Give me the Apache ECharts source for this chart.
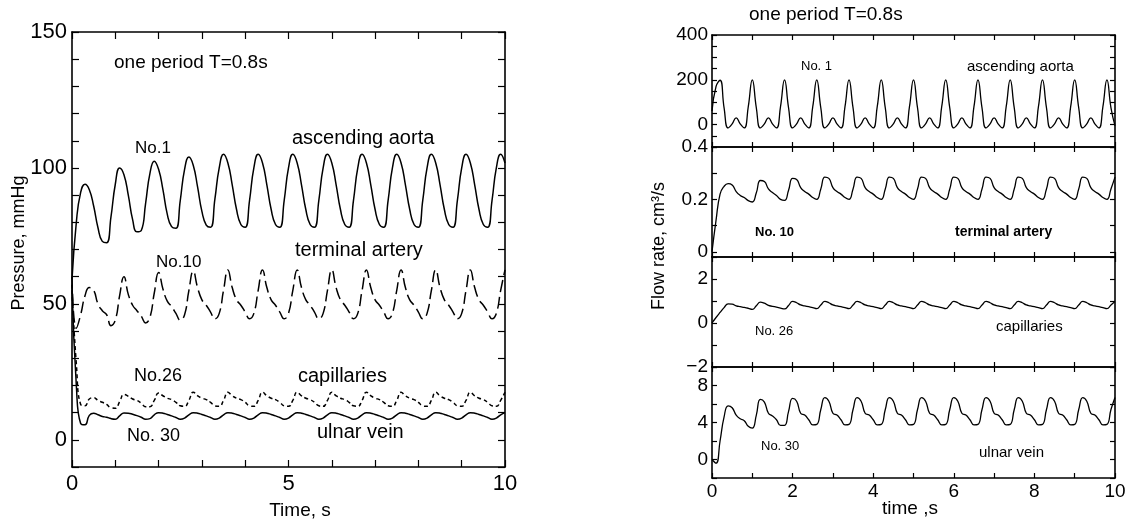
<!DOCTYPE html>
<html>
<head>
<meta charset="utf-8">
<script src="https://cdn.jsdelivr.net/npm/echarts@6/dist/echarts.min.js"></script>
<style>
  html, body { margin: 0; padding: 0; background: #fff; }
  #chart { width: 1130px; height: 527px; }
</style>
</head>
<body>
<div id="chart"></div>
<script>
// all curves are sampled every 0.1 s from 0 to 10 s
const timeStep = 0.1;

// left panel: pressure, mmHg
const pressureAorta = [
  59, 80, 91, 94, 92, 86, 78, 73, 72.5, 82, 94, 100, 97.5, 90, 81, 76.5, 77, 87,
  98, 102.5, 99.5, 92, 83, 78.4, 77.8, 88, 99.5, 104, 101, 93, 84, 79, 78.2, 88.5, 100, 105,
  101.8, 93.8, 84.7, 79.2, 78.2, 88, 100, 105,
  101.8, 93.8, 84.7, 79.2, 78.2, 88, 100, 105,
  101.8, 93.8, 84.7, 79.2, 78.2, 88, 100, 105,
  101.8, 93.8, 84.7, 79.2, 78.2, 88, 100, 105,
  101.8, 93.8, 84.7, 79.2, 78.2, 88, 100, 105,
  101.8, 93.8, 84.7, 79.2, 78.2, 88, 100, 105,
  101.8, 93.8, 84.7, 79.2, 78.2, 88, 100, 105,
  101.8, 93.8, 84.7, 79.2, 78.2, 88, 100, 105,
  101.8
];
const pressureTerminal = [
  60, 41, 46, 53, 56, 55, 50, 47.5, 46, 42, 44, 53, 60, 53.5, 49.5, 47.5, 45.5, 43,
  45, 54, 61.5, 55.5, 51, 49, 46.5, 44, 46, 55, 62,
  56, 51.5, 49.5, 47, 44.5, 46.5, 55, 62.5,
  56, 51.5, 49.5, 47, 44.5, 46.5, 55, 62.5,
  56, 51.5, 49.5, 47, 44.5, 46.5, 55, 62.5,
  56, 51.5, 49.5, 47, 44.5, 46.5, 55, 62.5,
  56, 51.5, 49.5, 47, 44.5, 46.5, 55, 62.5,
  56, 51.5, 49.5, 47, 44.5, 46.5, 55, 62.5,
  56, 51.5, 49.5, 47, 44.5, 46.5, 55, 62.5,
  56, 51.5, 49.5, 47, 44.5, 46.5, 55, 62.5,
  56, 51.5, 49.5, 47, 44.5, 46.5, 55, 62.5
];
const pressureCapillary = [
  55, 28, 13, 12.5, 15, 15.5, 14.5, 13.8, 13, 11.8, 11.6, 14, 16.7, 16, 15, 14.5,
  13.5, 12.2, 12.2, 14.5, 17.2, 16.2, 15.3, 14.8, 13.8, 12.5, 12.3, 14.5, 17.5,
  16.2, 15.3, 14.8, 13.8, 12.5, 12.3, 14.5, 17.5,
  16.2, 15.3, 14.8, 13.8, 12.5, 12.3, 14.5, 17.5,
  16.2, 15.3, 14.8, 13.8, 12.5, 12.3, 14.5, 17.5,
  16.2, 15.3, 14.8, 13.8, 12.5, 12.3, 14.5, 17.5,
  16.2, 15.3, 14.8, 13.8, 12.5, 12.3, 14.5, 17.5,
  16.2, 15.3, 14.8, 13.8, 12.5, 12.3, 14.5, 17.5,
  16.2, 15.3, 14.8, 13.8, 12.5, 12.3, 14.5, 17.5,
  16.2, 15.3, 14.8, 13.8, 12.5, 12.3, 14.5, 17.5,
  16.2, 15.3, 14.8, 13.8, 12.5, 12.3, 14.5, 17.5
];
const pressureVein = [
  57, 20, 6, 5.5, 9, 9.8, 9.2, 8.6, 8.3, 7.8, 7.6, 8.8, 9.9, 9.8, 9.4, 8.9, 8.3,
  7.6, 7.8, 9.2, 10,
  9.8, 9.3, 8.8, 8.2, 7.6, 8, 9.2, 10,
  9.8, 9.3, 8.8, 8.2, 7.6, 8, 9.2, 10,
  9.8, 9.3, 8.8, 8.2, 7.6, 8, 9.2, 10,
  9.8, 9.3, 8.8, 8.2, 7.6, 8, 9.2, 10,
  9.8, 9.3, 8.8, 8.2, 7.6, 8, 9.2, 10,
  9.8, 9.3, 8.8, 8.2, 7.6, 8, 9.2, 10,
  9.8, 9.3, 8.8, 8.2, 7.6, 8, 9.2, 10,
  9.8, 9.3, 8.8, 8.2, 7.6, 8, 9.2, 10,
  9.8, 9.3, 8.8, 8.2, 7.6, 8, 9.2, 10,
  9.8, 9.3, 8.8, 8.2, 7.6, 8, 9.2, 10
];

// right panels: flow rate, cm3/s
const flowAorta = [
  60, 170, 198,
  75, -15, 3, 30, 3, -15, 80, 200,
  75, -15, 3, 30, 3, -15, 80, 200,
  75, -15, 3, 30, 3, -15, 80, 200,
  75, -15, 3, 30, 3, -15, 80, 200,
  75, -15, 3, 30, 3, -15, 80, 200,
  75, -15, 3, 30, 3, -15, 80, 200,
  75, -15, 3, 30, 3, -15, 80, 200,
  75, -15, 3, 30, 3, -15, 80, 200,
  75, -15, 3, 30, 3, -15, 80, 200,
  75, -15, 3, 30, 3, -15, 80, 200,
  75, -15, 3, 30, 3, -15, 80, 200,
  75, -15, 3, 30, 3, -15, 80, 200,
  75, -5
];
const flowTerminal = [
  0, 0.12, 0.22, 0.25, 0.26, 0.255, 0.23, 0.215, 0.207, 0.195, 0.19, 0.225, 0.272,
  0.268, 0.24, 0.226, 0.215, 0.2, 0.196, 0.235, 0.28, 0.276,
  0.245, 0.23, 0.22, 0.207, 0.2, 0.24, 0.285, 0.28,
  0.245, 0.23, 0.22, 0.207, 0.2, 0.24, 0.285, 0.28,
  0.245, 0.23, 0.22, 0.207, 0.2, 0.24, 0.285, 0.28,
  0.245, 0.23, 0.22, 0.207, 0.2, 0.24, 0.285, 0.28,
  0.245, 0.23, 0.22, 0.207, 0.2, 0.24, 0.285, 0.28,
  0.245, 0.23, 0.22, 0.207, 0.2, 0.24, 0.285, 0.28,
  0.245, 0.23, 0.22, 0.207, 0.2, 0.24, 0.285, 0.28,
  0.245, 0.23, 0.22, 0.207, 0.2, 0.24, 0.285, 0.28,
  0.245, 0.23, 0.22, 0.207, 0.2, 0.24, 0.285, 0.28,
  0.245, 0.23, 0.22, 0.207, 0.2, 0.24, 0.285
];
const flowCapillary = [
  0, 0.25, 0.48, 0.7, 0.87, 0.86, 0.78, 0.74, 0.71, 0.67, 0.62, 0.78, 0.95, 0.9,
  0.8, 0.76, 0.72, 0.68, 0.64, 0.8, 0.98, 0.92,
  0.82, 0.78, 0.74, 0.7, 0.65, 0.82, 0.98, 0.92,
  0.82, 0.78, 0.74, 0.7, 0.65, 0.82, 0.98, 0.92,
  0.82, 0.78, 0.74, 0.7, 0.65, 0.82, 0.98, 0.92,
  0.82, 0.78, 0.74, 0.7, 0.65, 0.82, 0.98, 0.92,
  0.82, 0.78, 0.74, 0.7, 0.65, 0.82, 0.98, 0.92,
  0.82, 0.78, 0.74, 0.7, 0.65, 0.82, 0.98, 0.92,
  0.82, 0.78, 0.74, 0.7, 0.65, 0.82, 0.98, 0.92,
  0.82, 0.78, 0.74, 0.7, 0.65, 0.82, 0.98, 0.92,
  0.82, 0.78, 0.74, 0.7, 0.65, 0.82, 0.98, 0.92,
  0.82, 0.78, 0.74, 0.7, 0.65, 0.82, 0.98
];
const flowVein = [
  0, -0.4, 2, 4.6, 5.8, 5.6, 4.8, 4.4, 4.2, 3.6, 3.4, 4.8, 6.5, 6.2, 5.0, 4.7,
  4.3, 3.7, 3.7, 5.2, 6.6, 6.3,
  5.0, 4.8, 4.3, 3.75, 3.8, 5.4, 6.7, 6.3,
  5.0, 4.8, 4.3, 3.75, 3.8, 5.4, 6.7, 6.3,
  5.0, 4.8, 4.3, 3.75, 3.8, 5.4, 6.7, 6.3,
  5.0, 4.8, 4.3, 3.75, 3.8, 5.4, 6.7, 6.3,
  5.0, 4.8, 4.3, 3.75, 3.8, 5.4, 6.7, 6.3,
  5.0, 4.8, 4.3, 3.75, 3.8, 5.4, 6.7, 6.3,
  5.0, 4.8, 4.3, 3.75, 3.8, 5.4, 6.7, 6.3,
  5.0, 4.8, 4.3, 3.75, 3.8, 5.4, 6.7, 6.3,
  5.0, 4.8, 4.3, 3.75, 3.8, 5.4, 6.7, 6.3,
  5.0, 4.8, 4.3, 3.75, 3.8, 5.4, 6.7
];

// tick values of the four flow panels (top to bottom)
const flowTicks = [
  [-100, -50, 0, 50, 100, 150, 200, 250, 300, 350, 400],
  [0, 0.1, 0.2, 0.3, 0.4],
  [-2, -1, 0, 1, 2, 3],
  [-2, 0, 2, 4, 6, 8, 10]
];
const flowTickLabels = [
  [0, 200, 400],
  [0, 0.2, 0.4],
  [-2, 0, 2],
  [0, 4, 8]
];
const flowRanges = [[-100, 400], [-0.02, 0.4], [-2, 3], [-2, 10]];

const FONT = "'Liberation Sans', Arial, Helvetica, sans-serif";
const INK = '#000';

const time = pressureAorta.map((_, i) => Math.round(i * timeStep * 10) / 10);
const pairs = vals => vals.map((v, i) => [time[i], v]);

const chart = echarts.init(document.getElementById('chart'));

// one axis of a boxed frame; ticks point inwards
function frameAxis(cfg) {
  return {
    type: 'value',
    gridIndex: cfg.grid,
    position: cfg.position,
    min: cfg.min,
    max: cfg.max,
    interval: cfg.interval,
    axisLine: { show: true, onZero: false, lineStyle: { color: INK, width: 1.6 } },
    axisTick: {
      show: true, inside: true, length: cfg.tickLen,
      customValues: cfg.ticks,
      lineStyle: { color: INK, width: 1.2 }
    },
    axisLabel: {
      show: !!cfg.labels, color: INK, fontFamily: FONT,
      fontSize: cfg.fontSize, margin: cfg.margin,
      customValues: cfg.labelValues,
      formatter: cfg.labels || undefined
    },
    splitLine: { show: false }
  };
}

const xAxes = [];
const yAxes = [];

// left grid: pressure
xAxes.push(frameAxis({ grid: 0, position: 'bottom', min: 0, max: 10, interval: 1, tickLen: 7,
  fontSize: 22, margin: 6, labels: v => (v % 5 === 0 ? String(v) : '') }));
xAxes.push(frameAxis({ grid: 0, position: 'top', min: 0, max: 10, interval: 1, tickLen: 7 }));
yAxes.push(frameAxis({ grid: 0, position: 'left', min: -10, max: 150, interval: 10, tickLen: 7,
  fontSize: 22, margin: 5, labels: v => (v % 50 === 0 ? String(v) : '') }));
yAxes.push(frameAxis({ grid: 0, position: 'right', min: -10, max: 150, interval: 10, tickLen: 7 }));

// right grids: flow rate
for (let p = 0; p < 4; p++) {
  const g = p + 1;
  const last = p === 3;
  xAxes.push(frameAxis({ grid: g, position: 'bottom', min: 0, max: 10, interval: 1, tickLen: 5,
    fontSize: 19, margin: 4, labels: last ? v => (v % 2 === 0 ? String(v) : '') : null }));
  xAxes.push(frameAxis({ grid: g, position: 'top', min: 0, max: 10, interval: 1, tickLen: 5 }));
  yAxes.push(frameAxis({ grid: g, position: 'left', min: flowRanges[p][0], max: flowRanges[p][1],
    tickLen: 5, ticks: flowTicks[p], labelValues: flowTickLabels[p],
    fontSize: 19, margin: 4, labels: v => (v < 0 ? '\u2212' + Math.abs(v) : String(v)) }));
  yAxes.push(frameAxis({ grid: g, position: 'right', min: flowRanges[p][0], max: flowRanges[p][1],
    tickLen: 5, ticks: flowTicks[p] }));
}

function curve(values, grid, width, dash) {
  return {
    type: 'line',
    xAxisIndex: grid * 2,
    yAxisIndex: grid * 2,
    data: pairs(values),
    showSymbol: false,
    smooth: 0.5,
    lineStyle: { color: INK, width: width, type: dash || 'solid' },
    silent: true
  };
}

function note(text, x, y, size, opts) {
  opts = opts || {};
  return {
    type: 'text',
    x: x, y: y,
    rotation: opts.rotate ? Math.PI / 2 : 0,
    silent: true,
    style: {
      text: text, fill: INK, fontFamily: FONT, fontSize: size,
      fontWeight: opts.bold ? 'bold' : 'normal',
      align: opts.align || 'left', verticalAlign: 'middle'
    }
  };
}

const option = {
  animation: false,
  backgroundColor: '#fff',
  grid: [
    { left: 72, top: 32, width: 433, height: 435 },
    { left: 712, top: 35, width: 403, height: 112 },
    { left: 712, top: 147, width: 403, height: 110 },
    { left: 712, top: 257, width: 403, height: 110 },
    { left: 712, top: 367, width: 403, height: 111 }
  ],
  xAxis: xAxes,
  yAxis: yAxes,
  series: [
    curve(pressureAorta, 0, 1.5),
    curve(pressureTerminal, 0, 1.5, [12, 5]),
    curve(pressureCapillary, 0, 1.5, [4, 3]),
    curve(pressureVein, 0, 1.5),
    curve(flowAorta, 1, 1.3),
    curve(flowTerminal, 2, 1.3),
    curve(flowCapillary, 3, 1.3),
    curve(flowVein, 4, 1.3)
  ],
  graphic: [
    // left panel texts
    note('one period T=0.8s', 114, 63, 19),
    note('No.1', 135, 148, 17),
    note('ascending aorta', 292, 138, 20),
    note('No.10', 156, 262, 17),
    note('terminal artery', 295, 250, 20),
    note('No.26', 134, 376, 18),
    note('capillaries', 298, 376, 20),
    note('No. 30', 127, 436, 18),
    note('ulnar vein', 317, 432, 20),
    note('Pressure, mmHg', 19, 243, 18, { rotate: true, align: 'center' }),
    note('Time, s', 300, 511, 19, { align: 'center' }),
    // right panel texts
    note('one period T=0.8s', 749, 15, 19),
    note('No. 1', 801, 66, 13),
    note('ascending aorta', 967, 67, 15),
    note('No. 10', 755, 232, 13, { bold: true }),
    note('terminal artery', 955, 232, 14, { bold: true }),
    note('No. 26', 755, 331, 13),
    note('capillaries', 996, 327, 15),
    note('No. 30', 761, 446, 13),
    note('ulnar vein', 979, 453, 15),
    note('Flow rate, cm\u00b3/s', 659, 246, 18, { rotate: true, align: 'center' }),
    note('time ,s', 910, 509, 19, { align: 'center' })
  ]
};

chart.setOption(option);
</script>
</body>
</html>
